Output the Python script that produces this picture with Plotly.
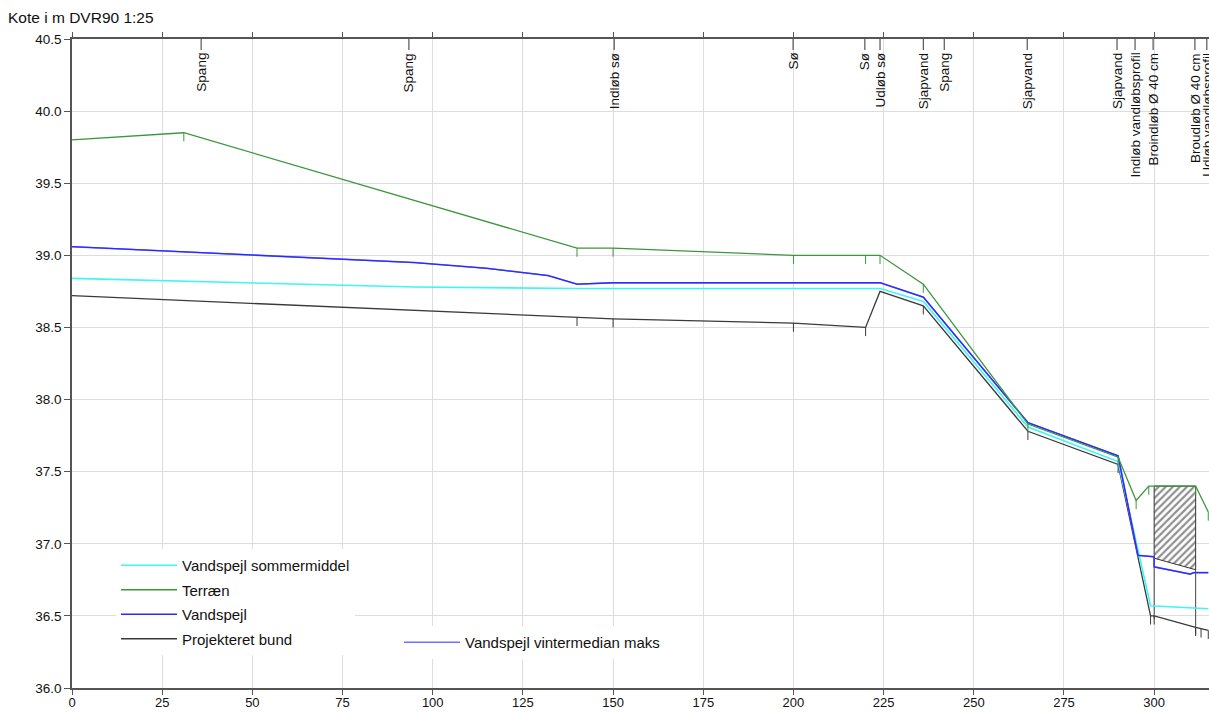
import plotly.graph_objects as go

# ---------------- data ----------------
terrain_x = [0, 31, 140, 150, 200, 220, 224, 236, 265, 290, 295, 298.5, 311.5, 315]
terrain_y = [39.80, 39.85, 39.05, 39.05, 39.00, 39.00, 39.00, 38.80, 37.83, 37.60, 37.30, 37.40, 37.40, 37.22]
terrain_tick = [0, 1, 1, 1, 1, 1, 1, 1, 1, 1, 1, 1, 1, 1]

bund_x = [0, 140, 150, 200, 220, 224, 236, 265, 290, 299, 300, 311.5, 313, 315]
bund_y = [38.72, 38.57, 38.56, 38.53, 38.50, 38.75, 38.65, 37.78, 37.55, 36.50, 36.50, 36.42, 36.41, 36.40]
bund_tick = [0, 1, 1, 1, 1, 0, 1, 1, 1, 1, 1, 1, 1, 1]

sommer_x = [0, 95, 140, 224, 236, 265, 290, 299, 315]
sommer_y = [38.84, 38.78, 38.77, 38.77, 38.68, 37.81, 37.57, 36.57, 36.55]

vandspejl_x = [0, 95, 115, 132, 140, 150, 224, 236, 265, 290, 295.5, 300, 300, 310, 311, 315]
vandspejl_y = [39.06, 38.95, 38.91, 38.86, 38.80, 38.81, 38.81, 38.71, 37.84, 37.61, 36.92, 36.91, 36.84, 36.79, 36.80, 36.80]

vinter_x = vandspejl_x
vinter_y = vandspejl_y

# culvert (bro) outline
bro_x = [300, 311.5, 311.5, 300, 300]
bro_y = [37.40, 37.40, 36.82, 36.90, 37.40]
bro_wall_x = [300, 300, None, 311.5, 311.5]
bro_wall_y = [36.90, 36.48, None, 36.82, 36.37]

station_x = [35.8, 93.4, 150.3, 199.9, 219.8, 224.0, 236.0, 241.8, 264.8, 289.7, 294.7, 299.7, 311.3, 314.6]
station_labels = ["Spang", "Spang", "Indløb sø", "Sø", "Sø", "Udløb sø", "Sjapvand", "Spang",
                  "Sjapvand", "Sjapvand", "Indløb vandløbsprofil", "Broindløb Ø 40 cm",
                  "Broudløb Ø 40 cm", "Udløb vandløbsprofil"]

x_ticks = list(range(0, 301, 25))
y_ticks = [36.0, 36.5, 37.0, 37.5, 38.0, 38.5, 39.0, 39.5, 40.0, 40.5]

TICK = 0.06
GREEN = "#3c963c"
BLUE = "#2a2aff"
BLUE2 = "#7070ff"
CYAN = "#3ff5f5"
BLACK = "#3a3a3a"

W, H = 1209, 712
L, T, B = 72, 39, 24
PW = W - L
PH = H - T - B

fig = go.Figure()

def err(ticks):
    return dict(type="data", symmetric=False, array=[0] * len(ticks),
                arrayminus=[TICK * t for t in ticks], width=0, thickness=1)

fig.add_trace(go.Scatter(x=bro_x, y=bro_y, mode="lines", fill="toself",
                         fillcolor="white",
                         fillpattern=dict(shape="/", fgcolor="#222222", bgcolor="white",
                                          size=5, solidity=0.45),
                         line=dict(color="#333333", width=1), showlegend=False, hoverinfo="skip"))
fig.add_trace(go.Scatter(x=bro_wall_x, y=bro_wall_y, mode="lines",
                         line=dict(color="#444444", width=1), showlegend=False, hoverinfo="skip"))

fig.add_trace(go.Scatter(x=bund_x, y=bund_y, mode="lines", name="Projekteret bund",
                         line=dict(color=BLACK, width=1.3),
                         error_y=dict(err(bund_tick), color=BLACK),
                         legendrank=4, legend="legend", legendgroup="d"))
fig.add_trace(go.Scatter(x=sommer_x, y=sommer_y, mode="lines", name="Vandspejl sommermiddel",
                         line=dict(color=CYAN, width=1.6), legendrank=1, legend="legend",
                         legendgroup="a"))
fig.add_trace(go.Scatter(x=vinter_x, y=vinter_y, mode="lines", name="Vandspejl vintermedian maks",
                         line=dict(color=BLUE2, width=1.6), legend="legend2"))
fig.add_trace(go.Scatter(x=vandspejl_x, y=vandspejl_y, mode="lines", name="Vandspejl",
                         line=dict(color=BLUE, width=1.3), legendrank=3, legend="legend",
                         legendgroup="c"))
fig.add_trace(go.Scatter(x=terrain_x, y=terrain_y, mode="lines", name="Terræn",
                         line=dict(color=GREEN, width=1.3),
                         error_y=dict(err(terrain_tick), color=GREEN),
                         legendrank=2, legend="legend", legendgroup="b"))

shapes = []
annotations = []
for sx, lab in zip(station_x, station_labels):
    shapes.append(dict(type="line", xref="x", yref="paper", x0=sx, x1=sx, y0=1, y1=1 - 11 / PH,
                       line=dict(color="#333333", width=1)))
    annotations.append(dict(x=sx, y=1, xref="x", yref="paper", text=lab, showarrow=False,
                            textangle=-90, yanchor="top", xanchor="center", yshift=-12,
                            font=dict(size=13.5, color="#111111")))

fig.update_layout(
    width=W, height=H,
    margin=dict(l=L, r=0, t=T, b=B, autoexpand=False),
    paper_bgcolor="white", plot_bgcolor="white",
    font=dict(family="Liberation Sans, Arial, sans-serif", size=13, color="#111111"),
    title=dict(text="Kote i m DVR90 1:25", x=8 / W, xanchor="left", xref="container",
               y=1 - 18 / H, yanchor="middle", yref="container",
               font=dict(size=15.5, color="#111111")),
    xaxis=dict(range=[0, 315.2], tickvals=x_ticks, ticktext=[str(v) for v in x_ticks],
               showgrid=True, gridcolor="#dddddd", gridwidth=1,
               showline=True, linecolor="#555555", linewidth=1.5, mirror="ticks",
               ticks="outside", ticklen=5, tickcolor="#555555", zeroline=False,
               ticklabelstandoff=-3,
               tickfont=dict(size=13)),
    yaxis=dict(range=[36.0, 40.5], tickvals=y_ticks, ticktext=[f"{v:.1f}" for v in y_ticks],
               showgrid=True, gridcolor="#dddddd", gridwidth=1,
               showline=True, linecolor="#555555", linewidth=1.5,
               ticks="outside", ticklen=6, tickcolor="#555555", zeroline=False,
               tickfont=dict(size=13.5)),
    legend=dict(x=(116 - L) / PW, y=(688 - 549) / PH, xanchor="left", yanchor="top",
                bgcolor="white", borderwidth=0, font=dict(size=15, color="#111111"),
                tracegroupgap=2, itemwidth=56, traceorder="grouped"),
    legend2=dict(x=(399 - L) / PW, y=(688 - 626) / PH, xanchor="left", yanchor="top",
                 bgcolor="white", borderwidth=0, font=dict(size=15, color="#111111"),
                 itemwidth=56),
    shapes=shapes, annotations=annotations,
    showlegend=True,
)

fig.write_html("out.html", config={"displayModeBar": False},
               post_script="document.body.style.margin='0';document.body.style.padding='0';"
                           "document.body.style.overflow='hidden';")
